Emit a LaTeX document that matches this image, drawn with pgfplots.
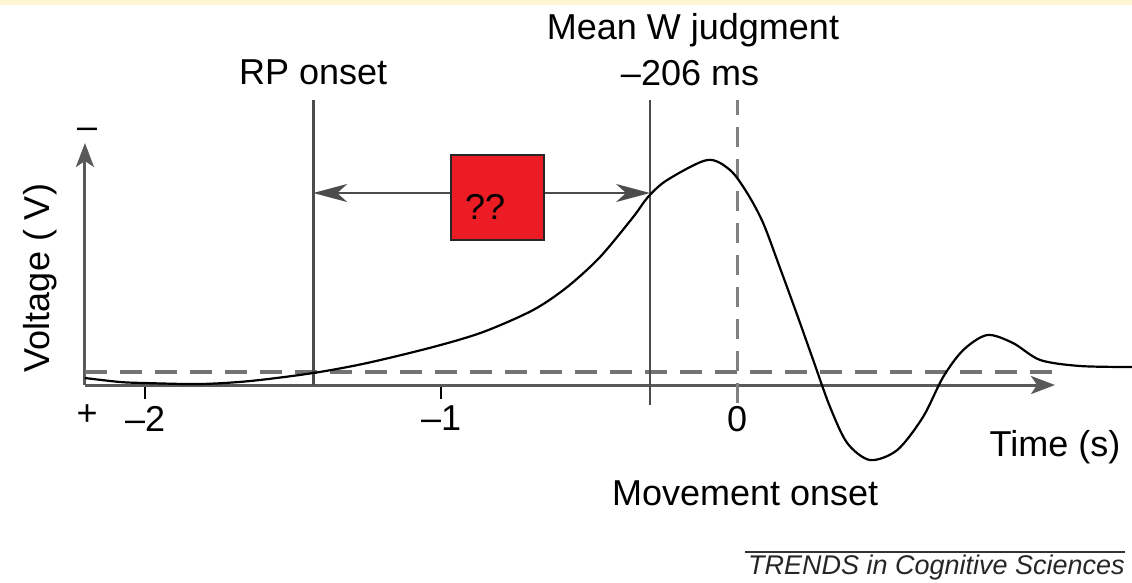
\documentclass[border=0pt]{standalone}
\usepackage{pgfplots}
\pgfplotsset{compat=1.18}
\usetikzlibrary{arrows.meta}
\usepackage{fontspec}
\setmainfont{Liberation Sans}
\definecolor{boxred}{HTML}{EC1C24}
\definecolor{strip}{HTML}{FFF6D6}
\newcommand{\lbl}{\fontsize{18}{21}\selectfont}

\begin{document}
\begin{tikzpicture}
\begin{axis}[
  x=148pt, y=50pt,
  xmin=-2.203, xmax=1.074, ymin=0, ymax=2.42,
  axis x line=bottom, axis y line=left,
  axis line style={black!65, line width=1.5pt, -{Stealth[length=12pt,width=9pt,inset=3pt]}},
  clip=false,
  xtick={-2,-1,0}, xticklabels={–2,–1,0},
  ytick=\empty,
  tick align=outside, major tick length=7pt,
  xtick style={black, line width=1pt},
  tick label style={font=\lbl},
]
% baseline and markers
\addplot[black!55, line width=1.6pt, dash pattern=on 11pt off 6.5pt] coordinates {(-2.203,0.13) (1.10,0.13)};
\addplot[black!70, line width=1.4pt] coordinates {(-1.432,0) (-1.432,2.85)};
\addplot[black!70, line width=1.4pt] coordinates {(-0.294,-0.20) (-0.294,2.85)};
\addplot[black!50, line width=1.6pt, dash pattern=on 10pt off 6pt] coordinates {(0,-0.18) (0,2.85)};

% readiness potential
\addplot[black, line width=1.1pt, smooth, tension=0.5] coordinates {
  (-2.203,0.07) (-2.084,0.03) (-2.0,0.02) (-1.814,0.01) (-1.645,0.04)
  (-1.432,0.12) (-1.250,0.22) (-1.027,0.38) (-0.858,0.53) (-0.689,0.75)
  (-0.574,0.98) (-0.463,1.28) (-0.351,1.68) (-0.301,1.88) (-0.236,2.05)
  (-0.101,2.25) (-0.024,2.15) (0.034,1.92) (0.088,1.62) (0.145,1.17)
  (0.203,0.70) (0.257,0.25) (0.314,-0.22) (0.372,-0.58) (0.449,-0.75)
  (0.541,-0.65) (0.628,-0.32) (0.696,0.08) (0.764,0.35) (0.845,0.50)
  (0.932,0.42) (1.024,0.25) (1.159,0.19) (1.334,0.18)
};

% interval arrow and box
\draw[black!70, line width=1.2pt, {Stealth[length=17pt,width=9pt,inset=5pt]}-{Stealth[length=17pt,width=9pt,inset=5pt]}]
  (axis cs:-1.432,1.92) -- (axis cs:-0.294,1.92);
\draw[fill=boxred, draw=black!85, line width=1.1pt] (axis cs:-0.966,1.45) rectangle (axis cs:-0.652,2.30);
\node[font=\lbl] at (axis cs:-0.851,1.78) {??};

% labels
\node[font=\lbl] at (axis cs:-1.432,3.13) {RP onset};
\node[font=\lbl] at (axis cs:-0.149,3.55) {Mean W judgment};
\node[font=\lbl] at (axis cs:-0.159,3.12) {–206 ms};
\node[font=\lbl] at (axis cs:1.074,-0.62) {Time (s)};
\node[font=\lbl] at (axis cs:0.027,-1.08) {Movement onset};
\node[font=\lbl] at (axis cs:-2.196,2.52) {–};
\node[font=\lbl] at (axis cs:-2.196,-0.30) {+};
\node[font=\lbl, rotate=90] at (axis cs:-2.355,1.07) {Voltage ( V)};

% footer and top strip
\draw[black!80, line width=1pt] (axis cs:0.027,-1.67) -- (axis cs:1.311,-1.67);
\node[font=\fontsize{13.5}{16}\selectfont\itshape, anchor=east, inner sep=0pt, text=black!85] at (axis cs:1.311,-1.82) {TRENDS in Cognitive Sciences};
\fill[strip] (axis cs:-2.490,3.80) rectangle (axis cs:1.334,3.85);

\coordinate (bl) at (axis cs:-2.490,-1.97);
\coordinate (tr) at (axis cs:1.334,3.85);
\end{axis}
\pgfresetboundingbox
\path[use as bounding box] (bl) rectangle (tr);
\end{tikzpicture}
\end{document}
